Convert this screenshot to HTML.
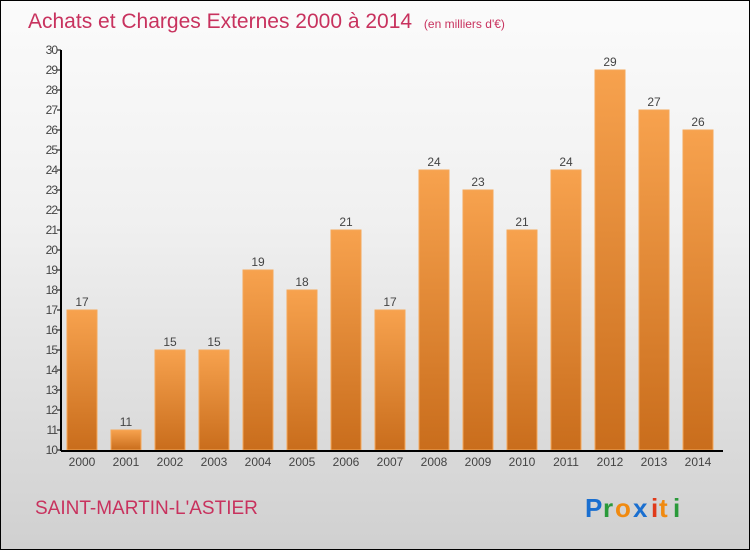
<!DOCTYPE html>
<html><head><meta charset="utf-8"><style>
body{margin:0}
#root{position:relative;width:748px;height:548px;border:1px solid #000;background:linear-gradient(#fbfbfb,#f0f0f0 40%,#d0d0d0);font-family:"Liberation Sans",sans-serif;overflow:hidden}
</style></head><body>
<div id="root">
<svg id="svg" width="748" height="548" style="position:absolute;left:0;top:0">
<defs><linearGradient id="bg" x1="0" y1="0" x2="0" y2="1"><stop offset="0" stop-color="#f7a24e"/><stop offset="1" stop-color="#c96d1c"/></linearGradient></defs>
<text x="27" y="27" font-size="21" fill="#c8325e">Achats et Charges Externes 2000 à 2014 <tspan font-size="12" dx="6">(en milliers d'€)</tspan></text>
<text x="34" y="513" font-size="19" fill="#c8325e">SAINT-MARTIN-L'ASTIER</text>
<g font-size="26" font-weight="bold">
<text x="584" y="516" fill="#1a6fd0">P</text><text x="602" y="516" fill="#2a9a3a">r</text><text x="614" y="516" fill="#f08a10">o</text><text x="632" y="516" fill="#1a6fd0">x</text><text x="650" y="516" fill="#e03a1a">i</text><text x="658" y="516" fill="#f08a10">t</text><text x="672" y="516" fill="#2a9a3a">i</text>
</g>
<g id="plot"></g>
</svg>
</div>
<script>
const years=["2000","2001","2002","2003","2004","2005","2006","2007","2008","2009","2010","2011","2012","2013","2014"];
const values=[17,11,15,15,19,18,21,17,24,23,21,24,29,27,26];
const yTicks=[10,11,12,13,14,15,16,17,18,19,20,21,22,23,24,25,26,27,28,29,30];
const yMin=10,yMax=30,plotTop=49,plotBot=449,x0=60,step=44,bw=30;
const yS=v=>plotBot-(v-yMin)/(yMax-yMin)*(plotBot-plotTop);
const xc=i=>81+i*step;
const g=document.getElementById('plot'),NS="http://www.w3.org/2000/svg";
function mk(t,a,txt){const e=document.createElementNS(NS,t);for(const k in a)e.setAttribute(k,a[k]);if(txt!=null)e.textContent=txt;g.appendChild(e);return e;}
values.forEach((v,i)=>{
const r=mk('rect',{x:xc(i)-bw/2,y:yS(v),width:bw,height:plotBot-yS(v),fill:'url(#bg)',stroke:'#f5a85a','stroke-width':1});


const t=mk('text',{x:xc(i),y:yS(v)-4,'font-size':12,'text-anchor':'middle',fill:'#444'},String(v));


const xl=mk('text',{x:xc(i),y:plotBot+16,'font-size':12,'text-anchor':'middle',fill:'#444'},years[i]);


});
yTicks.forEach(v=>{
const l=mk('line',{x1:x0-4,x2:x0,y1:yS(v),y2:yS(v),stroke:'#000'});


const t=mk('text',{x:x0-4,y:yS(v)+4,'font-size':12,'text-anchor':'end',fill:'#444','letter-spacing':'-1'},String(v));


});
const ya=mk('line',{x1:x0,x2:x0,y1:plotTop,y2:plotBot+1,stroke:'#000','stroke-width':2});


const xa=mk('line',{x1:x0,x2:722,y1:plotBot+1,y2:plotBot+1,stroke:'#000','stroke-width':2});


</script>
</body></html>
